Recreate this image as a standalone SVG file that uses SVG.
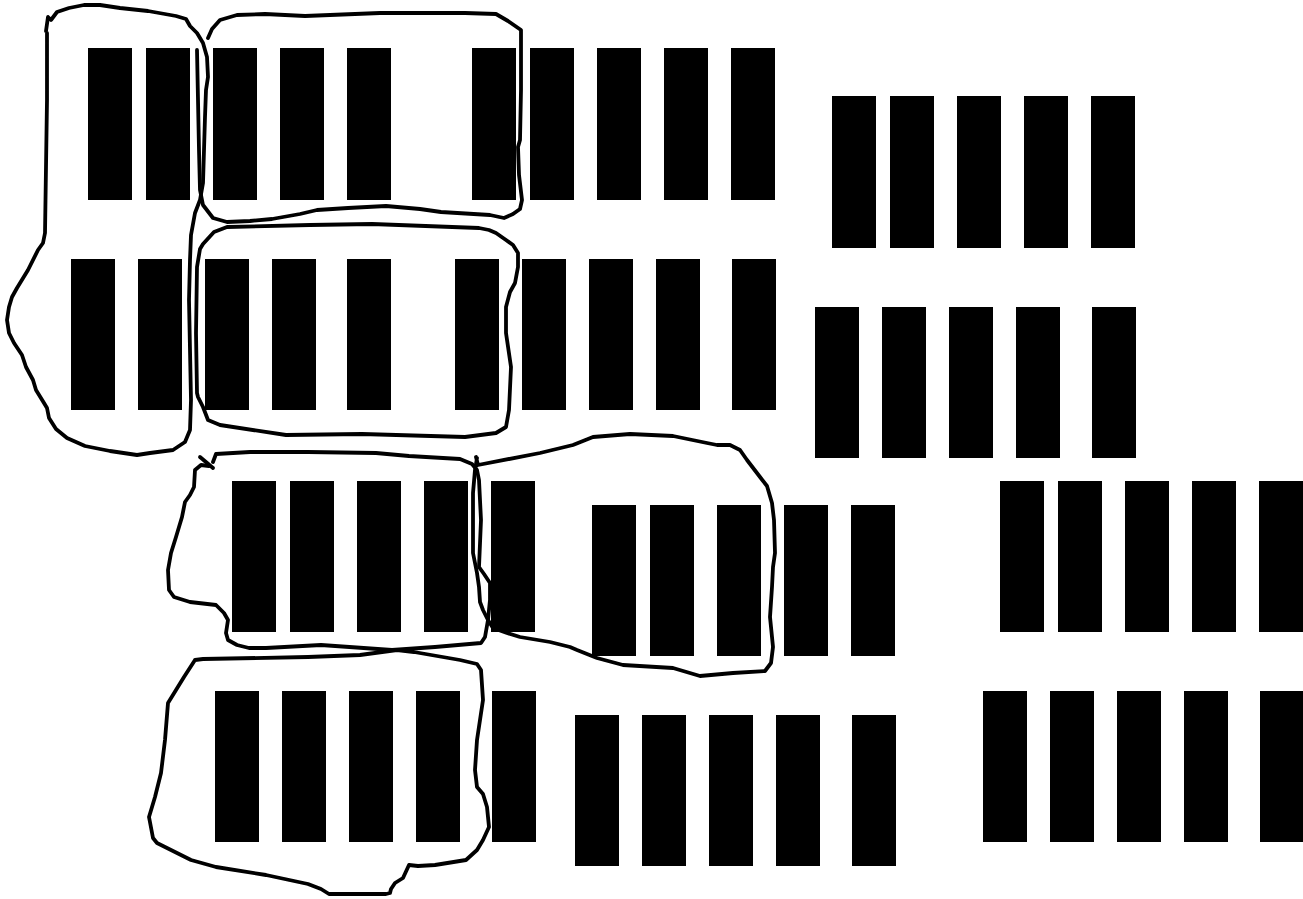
<svg xmlns="http://www.w3.org/2000/svg" width="1303" height="899" viewBox="0 0 1303 899">
<style>
.b{fill:#000}
.l{fill:none;stroke:#000;stroke-width:3.8;stroke-linejoin:round;stroke-linecap:round}
</style>
<rect width="1303" height="899" fill="#fff"/>
<g id="bars">
<g id="row1">
<rect class="b" x="88" y="48" width="44" height="152"/>
<rect class="b" x="146" y="48" width="44" height="152"/>
<rect class="b" x="213" y="48" width="44" height="152"/>
<rect class="b" x="280" y="48" width="44" height="152"/>
<rect class="b" x="347" y="48" width="44" height="152"/>
<rect class="b" x="472" y="48" width="44" height="152"/>
<rect class="b" x="530" y="48" width="44" height="152"/>
<rect class="b" x="597" y="48" width="44" height="152"/>
<rect class="b" x="664" y="48" width="44" height="152"/>
<rect class="b" x="731" y="48" width="44" height="152"/>
</g>
<g id="row1b">
<rect class="b" x="832" y="96" width="44" height="152"/>
<rect class="b" x="890" y="96" width="44" height="152"/>
<rect class="b" x="957" y="96" width="44" height="152"/>
<rect class="b" x="1024" y="96" width="44" height="152"/>
<rect class="b" x="1091" y="96" width="44" height="152"/>
</g>
<g id="row2">
<rect class="b" x="71" y="259" width="44" height="151"/>
<rect class="b" x="138" y="259" width="44" height="151"/>
<rect class="b" x="205" y="259" width="44" height="151"/>
<rect class="b" x="272" y="259" width="44" height="151"/>
<rect class="b" x="347" y="259" width="44" height="151"/>
<rect class="b" x="455" y="259" width="44" height="151"/>
<rect class="b" x="522" y="259" width="44" height="151"/>
<rect class="b" x="589" y="259" width="44" height="151"/>
<rect class="b" x="656" y="259" width="44" height="151"/>
<rect class="b" x="732" y="259" width="44" height="151"/>
</g>
<g id="row2b">
<rect class="b" x="815" y="307" width="44" height="151"/>
<rect class="b" x="882" y="307" width="44" height="151"/>
<rect class="b" x="949" y="307" width="44" height="151"/>
<rect class="b" x="1016" y="307" width="44" height="151"/>
<rect class="b" x="1092" y="307" width="44" height="151"/>
</g>
<g id="row3">
<rect class="b" x="232" y="481" width="44" height="151"/>
<rect class="b" x="290" y="481" width="44" height="151"/>
<rect class="b" x="357" y="481" width="44" height="151"/>
<rect class="b" x="424" y="481" width="44" height="151"/>
<rect class="b" x="491" y="481" width="44" height="151"/>
<rect class="b" x="1000" y="481" width="44" height="151"/>
<rect class="b" x="1058" y="481" width="44" height="151"/>
<rect class="b" x="1125" y="481" width="44" height="151"/>
<rect class="b" x="1192" y="481" width="44" height="151"/>
<rect class="b" x="1259" y="481" width="44" height="151"/>
</g>
<g id="row3b">
<rect class="b" x="592" y="505" width="44" height="151"/>
<rect class="b" x="650" y="505" width="44" height="151"/>
<rect class="b" x="717" y="505" width="44" height="151"/>
<rect class="b" x="784" y="505" width="44" height="151"/>
<rect class="b" x="851" y="505" width="44" height="151"/>
</g>
<g id="row4">
<rect class="b" x="215" y="691" width="44" height="151"/>
<rect class="b" x="282" y="691" width="44" height="151"/>
<rect class="b" x="349" y="691" width="44" height="151"/>
<rect class="b" x="416" y="691" width="44" height="151"/>
<rect class="b" x="492" y="691" width="44" height="151"/>
<rect class="b" x="983" y="691" width="44" height="151"/>
<rect class="b" x="1050" y="691" width="44" height="151"/>
<rect class="b" x="1117" y="691" width="44" height="151"/>
<rect class="b" x="1184" y="691" width="44" height="151"/>
<rect class="b" x="1260" y="691" width="44" height="151"/>
</g>
<g id="row4b">
<rect class="b" x="575" y="715" width="44" height="151"/>
<rect class="b" x="642" y="715" width="44" height="151"/>
<rect class="b" x="709" y="715" width="44" height="151"/>
<rect class="b" x="776" y="715" width="44" height="151"/>
<rect class="b" x="852" y="715" width="44" height="151"/>
</g>
</g>
<g id="loops">
<path id="loopA" class="l" d="M46,31 L48,17 L51,20 L57,12 L69,8 L84,5 L100,5 L120,8 L148,11 L176,16 L186,19 L190,26 L197,33 L203,43 L207,57 L208,77 L206,90 L205,117 L204,150 L203,183 L200,200 L195,213 L191,235 L190,260 L189,300 L191,400 L190,430 L185,442 L173,450 L150,453 L137,455 L110,451 L85,446 L67,438 L56,429 L49,418 L47,408 L44,403 L36,390 L33,380 L26,367 L22,355 L14,343 L9,333 L7,320 L9,307 L12,297 L17,288 L28,270 L38,250 L43,243 L45,233 L46,167 L47,100 L47,33"/>
<path id="loopB" class="l" d="M197,50 L198,100 L199,150 L200,190 L203,205 L213,218 L227,222 L250,221 L272,219 L300,214 L317,210 L348,208 L386,206 L420,209 L441,212 L490,215 L504,218 L513,214 L520,209 L522,200 L519,175 L518,147 L520,140 L521,90 L521,30 L508,21 L496,14 L465,13 L380,13 L305,16 L265,14 L237,15 L220,20 L212,29 L208,38"/>
<path id="loopC" class="l" d="M197,393 L198,397 L203,407 L208,420 L220,425 L286,435 L362,434 L465,437 L496,433 L506,427 L509,410 L511,367 L506,333 L506,307 L510,292 L515,283 L518,267 L518,253 L513,245 L506,240 L496,233 L489,230 L479,228 L372,224 L310,225 L227,227 L214,232 L203,244 L200,249 L197,267 L196,333 L197,393"/>
<path id="loopD" class="l" d="M213,462 L216,454 L250,452 L308,452 L376,453 L409,456 L460,459 L472,464 L477,470 L479,480 L481,520 L479,567 L484,574 L490,583 L490,600 L488,620 L485,637 L481,643 L435,647 L392,650 L321,645 L266,648 L249,648 L237,645 L228,640 L226,633 L228,620 L224,613 L216,605 L190,602 L174,597 L169,590 L168,570 L171,553 L176,537 L182,517 L185,502 L190,495 L194,487 L195,470 L201,465 L209,466"/>
<path id="xmark" class="l" d="M200,457 L213,468"/>
<path id="loopE" class="l" d="M476,457 L478,465 L540,453 L573,445 L593,437 L630,434 L673,436 L707,443 L717,445 L730,445 L740,450 L747,460 L760,477 L767,486 L772,503 L774,520 L775,553 L773,567 L772,587 L770,617 L773,647 L771,663 L765,671 L733,673 L700,676 L673,668 L623,665 L597,658 L577,650 L570,647 L550,642 L520,637 L507,633 L493,628 L488,620 L483,610 L480,602 L479,587 L477,573 L473,553 L473,520 L473,493 L475,470 L477,458"/>
<path id="loopF" class="l" d="M195,660 L203,659 L308,657 L360,655 L397,650 L414,652 L460,660 L477,664 L481,670 L483,700 L477,740 L475,770 L477,787 L483,794 L487,807 L489,827 L483,840 L477,850 L466,860 L435,865 L418,866 L409,865 L403,878 L395,883 L391,889 L390,893 L386,894 L329,894 L321,889 L308,884 L266,875 L216,867 L191,860 L157,843 L153,838 L149,817 L155,797 L161,773 L165,740 L168,703 L176,690 L184,677 L195,660"/>
</g>
</svg>
